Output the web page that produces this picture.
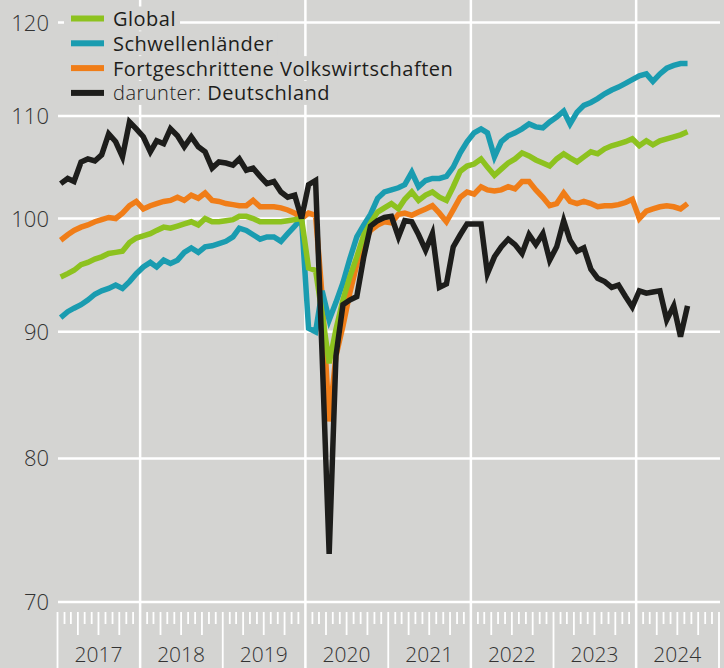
<!DOCTYPE html>
<html>
<head>
<meta charset="utf-8">
<script src="https://cdn.jsdelivr.net/npm/d3@7"></script>
<style>
  body { margin: 0; background: #d4d4d2; }
  svg { display: block; font-family: 'Open Sans', sans-serif; }
</style>
</head>
<body>
<div id="chart"></div>
<script>
// monthly values, Jan 2017 - Aug 2024 (Dec 2019 = 100)
const firstMonth = new Date(2017, 0, 1)
const lastMonth = new Date(2024, 7, 1)

const global = [
  94.7, 95.0, 95.3, 95.8, 96.0, 96.3, 96.5, 96.8, 96.9, 97.0, 97.8, 98.2,
  98.4, 98.6, 98.9, 99.2, 99.1, 99.3, 99.5, 99.7, 99.4, 100.0, 99.7, 99.7,
  99.8, 99.9, 100.2, 100.2, 100.0, 99.7, 99.7, 99.7, 99.7, 99.8, 99.9, 100.0,
  95.5, 95.3, 91.5, 87.4, 90.2, 92.7, 94.7, 96.5, 98.5, 99.6, 100.6, 101.0,
  101.4, 100.9, 101.8, 102.5, 101.7, 102.2, 102.5, 102.0, 101.7, 103.0, 104.5, 105.0,
  105.2, 105.7, 104.9, 104.1, 104.7, 105.3, 105.7, 106.3, 106.0, 105.6, 105.3, 105.0,
  105.7, 106.2, 105.8, 105.4, 105.9, 106.4, 106.2, 106.7, 107.0, 107.2, 107.4, 107.7,
  107.0, 107.5, 107.1, 107.5, 107.7, 107.9, 108.1, 108.4
]

const schwellen = [
  91.2, 91.7, 92.0, 92.3, 92.7, 93.2, 93.5, 93.7, 94.0, 93.7, 94.3, 95.0,
  95.6, 96.0, 95.6, 96.2, 95.9, 96.2, 96.9, 97.3, 96.9, 97.4, 97.5, 97.7,
  97.9, 98.3, 99.1, 98.9, 98.5, 98.1, 98.3, 98.3, 97.9, 98.6, 99.3, 100.0,
  90.3, 90.0, 93.5, 91.0, 92.5, 94.2, 96.3, 98.3, 99.4, 100.4, 101.9, 102.5,
  102.7, 102.9, 103.2, 104.4, 103.0, 103.6, 103.8, 103.8, 104.0, 104.9, 106.3, 107.4,
  108.3, 108.7, 108.3, 105.9, 107.4, 108.0, 108.3, 108.7, 109.2, 108.9, 108.8, 109.4,
  109.9, 110.5, 109.2, 110.4, 111.1, 111.4, 111.8, 112.3, 112.7, 113.0, 113.4, 113.8,
  114.2, 114.4, 113.6, 114.4, 115.0, 115.3, 115.5, 115.5
]

const fortgeschritten = [
  98.0, 98.5, 98.9, 99.2, 99.4, 99.7, 99.9, 100.1, 100.0, 100.5, 101.2, 101.6,
  100.9, 101.2, 101.4, 101.6, 101.7, 102.0, 101.7, 102.2, 101.9, 102.4, 101.7, 101.6,
  101.4, 101.3, 101.2, 101.2, 101.7, 101.1, 101.1, 101.1, 101.0, 100.8, 100.5, 100.0,
  100.5, 100.3, 93.0, 82.8, 88.0, 90.5, 93.3, 95.8, 97.8, 98.9, 99.4, 99.7,
  99.6, 100.4, 100.5, 100.3, 100.6, 100.9, 101.2, 100.5, 99.7, 100.8, 102.0, 102.5,
  102.3, 103.0, 102.7, 102.6, 102.7, 103.0, 102.8, 103.5, 103.5, 102.7, 102.0, 101.2,
  101.4, 102.4, 101.6, 101.4, 101.6, 101.4, 101.1, 101.2, 101.2, 101.3, 101.5, 101.8,
  100.0, 100.7, 100.9, 101.1, 101.2, 101.1, 100.9, 101.4
]

const deutschland = [
  103.3, 103.8, 103.5, 105.4, 105.7, 105.5, 106.1, 108.2, 107.4, 105.9, 109.4, 108.7,
  107.9, 106.4, 107.5, 107.2, 108.7, 108.0, 106.9, 107.9, 106.9, 106.4, 104.8, 105.4,
  105.3, 105.1, 105.7, 104.6, 104.8, 104.0, 103.3, 103.5, 102.5, 102.0, 102.2, 100.0,
  103.2, 103.6, 88.0, 73.2, 88.0, 92.3, 92.7, 93.0, 96.5, 99.3, 99.8, 100.1,
  100.2, 98.3, 99.8, 99.7, 98.5, 97.1, 98.6, 93.8, 94.1, 97.4, 98.5, 99.5,
  99.5, 99.5, 95.0, 96.5, 97.4, 98.1, 97.6, 96.8, 98.5, 97.6, 98.6, 96.2,
  97.4, 99.8, 98.0, 97.0, 97.3, 95.4, 94.6, 94.3, 93.8, 94.0, 93.0, 92.1,
  93.5, 93.3, 93.4, 93.5, 91.0, 92.2, 89.6, 92.2
]

const seriesNames = ['Global', 'Schwellenländer', 'Fortgeschrittene Volkswirtschaften', 'Deutschland']
const yTicks = [70, 80, 90, 100, 110, 120]
const yearLabels = [2017, 2018, 2019, 2020, 2021, 2022, 2023, 2024]
const gridYears = [2018, 2020, 2022, 2024]

const colors = {
  Global: '#8dc21f',
  'Schwellenländer': '#1a9cb0',
  'Fortgeschrittene Volkswirtschaften': '#f07d18',
  Deutschland: '#1d1d1b'
}
const bg = '#d4d4d2'

const width = 724
const height = 668

const svg = d3
  .select('#chart')
  .append('svg')
  .attr('width', width)
  .attr('height', height)

svg.append('rect').attr('width', width).attr('height', height).attr('fill', bg)

const xPositionScale = d3
  .scaleTime()
  .domain([new Date(2017, 0, 1), new Date(2025, 0, 1)])
  .range([57.5, 719])

const yPositionScale = d3
  .scaleLog()
  .domain([70, 120])
  .range([602, 22.5])

const months = d3.timeMonth.range(firstMonth, d3.timeMonth.offset(lastMonth, 1))

/* grid */
svg
  .selectAll('.hgrid')
  .data(yTicks)
  .enter()
  .append('line')
  .attr('class', 'hgrid')
  .attr('x1', 58)
  .attr('x2', 720)
  .attr('y1', d => yPositionScale(d))
  .attr('y2', d => yPositionScale(d))
  .attr('stroke', '#fff')
  .attr('stroke-width', 2.5)

svg
  .selectAll('.vgrid')
  .data(gridYears)
  .enter()
  .append('line')
  .attr('class', 'vgrid')
  .attr('x1', d => xPositionScale(new Date(d, 0, 1)))
  .attr('x2', d => xPositionScale(new Date(d, 0, 1)))
  .attr('y1', 0)
  .attr('y2', height)
  .attr('stroke', '#fff')
  .attr('stroke-width', 2.5)

/* month ticks */
const tickMonths = d3.timeMonth.range(new Date(2017, 0, 1), new Date(2025, 0, 2))
svg
  .selectAll('.mtick')
  .data(tickMonths.filter(d => !(d.getMonth() === 0 && gridYears.includes(d.getFullYear()))))
  .enter()
  .append('line')
  .attr('class', 'mtick')
  .attr('x1', d => xPositionScale(d))
  .attr('x2', d => xPositionScale(d))
  .attr('y1', 612)
  .attr('y2', d => d.getMonth() === 0 ? height : (d.getMonth() % 3 === 0 ? 635 : 624))
  .attr('stroke', '#fff')
  .attr('stroke-width', 1.8)

/* axis labels */
svg
  .selectAll('.ylabel')
  .data(yTicks)
  .enter()
  .append('text')
  .attr('class', 'ylabel')
  .attr('x', 49)
  .attr('y', d => yPositionScale(d) + 8)
  .attr('text-anchor', 'end')
  .style('font-size', '22px')
  .style('font-weight', 300)
  .attr('fill', '#333')
  .text(d => d)

svg
  .selectAll('.xlabel')
  .data(yearLabels)
  .enter()
  .append('text')
  .attr('class', 'xlabel')
  .attr('x', d => xPositionScale(new Date(d, 6, 1)))
  .attr('y', 662)
  .attr('text-anchor', 'middle')
  .style('font-size', '21px')
  .style('font-weight', 300)
  .attr('fill', '#333')
  .text(d => d)

/* lines */
const seriesData = {
  Global: global,
  'Schwellenländer': schwellen,
  'Fortgeschrittene Volkswirtschaften': fortgeschritten,
  Deutschland: deutschland
}

const line = d3
  .line()
  .x(d => xPositionScale(d3.timeDay.offset(d.date, 14)))
  .y(d => yPositionScale(d.value))

const drawOrder = ['Fortgeschrittene Volkswirtschaften', 'Schwellenländer', 'Global', 'Deutschland']
drawOrder.forEach(name => {
  const points = seriesData[name].map((v, i) => ({ date: months[i], value: v }))
  svg
    .append('path')
    .datum(points)
    .attr('d', line)
    .attr('fill', 'none')
    .attr('stroke', colors[name])
    .attr('stroke-width', 5.5)
    .attr('stroke-linejoin', 'miter')
})

/* legend */
const legendRows = [18.5, 43.3, 68.1, 92.9]
const legend = svg.append('g')

seriesNames.forEach((name, i) => {
  const yc = legendRows[i]
  const g = legend.append('g')
  const bgRect = g.append('rect').attr('fill', bg)
  g.append('rect')
    .attr('x', 71)
    .attr('y', yc - 3)
    .attr('width', 33)
    .attr('height', 6)
    .attr('fill', colors[name])
  const t = g.append('text')
    .attr('x', 113)
    .attr('y', yc + 7.5)
    .style('font-size', '20px')
    .style('letter-spacing', '0.5px')
    .attr('fill', '#1d1d1b')
  if (name === 'Deutschland') {
    t.append('tspan').style('font-weight', 300).text('darunter: ')
    t.append('tspan').style('font-weight', 500).text(name)
  } else {
    t.style('font-weight', 500).text(name)
  }
  const box = t.node().getBBox()
  bgRect
    .attr('x', 64)
    .attr('y', yc - 12)
    .attr('width', box.x + box.width + 4 - 64)
    .attr('height', 24)
})
</script>
</body>
</html>
